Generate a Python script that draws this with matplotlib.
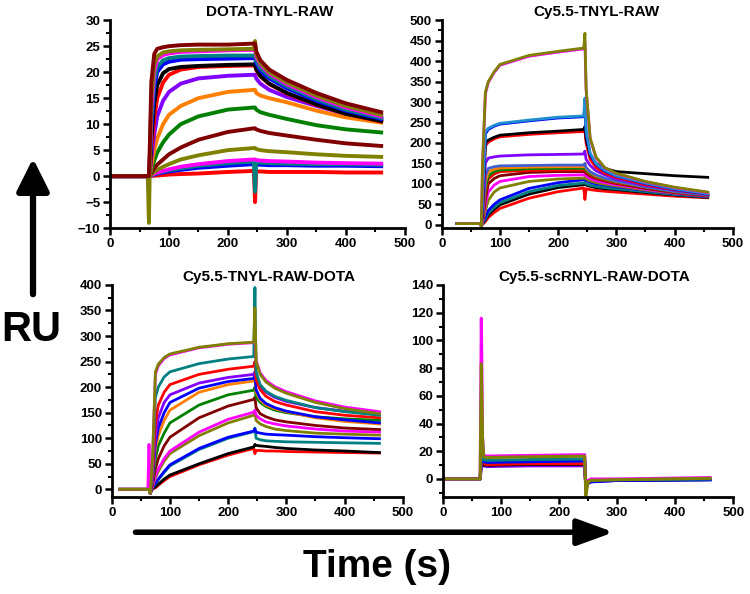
import matplotlib
matplotlib.use("Agg")
import matplotlib.pyplot as plt
from matplotlib.ticker import MultipleLocator

plt.rcParams['font.family'] = ['Liberation Sans', 'DejaVu Sans']
plt.rcParams['font.weight'] = 'bold'

BLACK = '#000000'
RED = '#ff0000'
BLUE = '#0000ff'
GREEN = '#008000'
PURPLE = '#8000ff'
ORANGE = '#ff8000'
MAROON = '#800000'
MAGENTA = '#ff00ff'
TEAL = '#008080'
OLIVE = '#808000'
SLATE = '#4060d0'
SKY = '#1f8fd0'

# ---- DOTA-TNYL-RAW ----
t_dota = [0, 64, 66, 68, 70, 75, 80, 90, 100, 120, 150, 200, 244, 246, 248, 255, 270, 300, 350, 400, 460]
dota_colors = [RED, BLUE, TEAL, MAGENTA, OLIVE, MAROON, GREEN, ORANGE, PURPLE, RED, BLACK, BLUE, TEAL, MAGENTA, OLIVE, MAROON]
dota_curves = [
    [0, 0, 0, 0, 0, 0.1, 0.1, 0.2, 0.3, 0.4, 0.5, 0.8, 1.0, -5, 0.9, 0.9, 0.8, 0.8, 0.8, 0.7, 0.7],
    [0, 0, 0, 0, 0.1, 0.3, 0.5, 0.7, 0.9, 1.2, 1.6, 2.0, 2.3, 2.3, 2.2, 2.2, 2.1, 2.1, 2.0, 2.0, 1.9],
    [0, 0, 0, 0, 0.1, 0.4, 0.6, 0.9, 1.1, 1.5, 2.0, 2.5, 2.8, -3, 2.7, 2.6, 2.5, 2.4, 2.3, 2.3, 2.2],
    [0, 0, 0, 0, 0.2, 0.5, 0.7, 1.0, 1.3, 1.8, 2.3, 2.9, 3.2, 3.2, 3.1, 3.0, 2.9, 2.8, 2.6, 2.5, 2.4],
    [0, 0, 0, 0.1, 0.3, 0.8, 1.2, 1.8, 2.3, 3.2, 4.0, 5.0, 5.4, 5.4, 5.2, 5.0, 4.8, 4.6, 4.2, 3.9, 3.7],
    [0, 0, 0, 0.2, 0.6, 1.5, 2.2, 3.2, 4.2, 5.5, 7.0, 8.5, 9.2, 9.2, 9.0, 8.7, 8.3, 7.8, 7.0, 6.3, 5.8],
    [0, 0, 0, 0.3, 1.2, 3.0, 4.5, 6.5, 8.0, 10.0, 11.5, 12.8, 13.2, 13.2, 12.8, 12.3, 11.8, 11.0, 9.8, 9.0, 8.4],
    [0, 0, 0, 0.5, 2.0, 5.0, 7.2, 10.0, 11.8, 13.5, 15.0, 16.2, 16.6, 16.6, 16.0, 15.5, 15.0, 14.2, 12.6, 11.3, 10.3],
    [0, 0, 0, 1.0, 3.5, 8.0, 11.5, 14.5, 16.2, 17.8, 18.8, 19.3, 19.5, 19.5, 18.8, 17.8, 16.6, 15.2, 13.5, 12.0, 10.9],
    [0, 0, 0, 1.5, 5.0, 11.0, 15.0, 18.0, 19.5, 20.5, 21.0, 21.2, 21.3, 21.3, 20.4, 19.2, 17.7, 15.9, 13.7, 12.0, 10.5],
    [0, 0, 0, 2.0, 7.0, 14.0, 17.5, 19.8, 20.6, 21.0, 21.2, 21.4, 21.5, 21.5, 20.6, 19.3, 17.8, 16.0, 13.8, 12.0, 10.6],
    [0, 0, 0, 3.0, 9.0, 17.0, 20.0, 21.5, 22.0, 22.4, 22.5, 22.6, 22.7, 22.7, 21.7, 20.3, 18.8, 16.9, 14.5, 12.6, 11.0],
    [0, 0, 0, 4.0, 11.0, 18.5, 21.0, 22.3, 22.7, 23.0, 23.1, 23.2, 23.2, 23.2, 22.2, 20.8, 19.2, 17.3, 14.8, 12.8, 11.2],
    [0, 0, 0, 5.0, 13.0, 20.0, 22.5, 23.3, 23.6, 23.9, 24.0, 24.2, 24.3, 24.3, 23.0, 21.5, 19.7, 17.7, 15.2, 13.2, 11.5],
    [0, 0, -9, 6.0, 15.0, 21.5, 23.0, 23.8, 24.0, 24.2, 24.3, 24.4, 24.5, 26.0, 23.5, 21.8, 20.0, 18.0, 15.5, 13.5, 11.8],
    [0, 0, 0, 8.0, 18.0, 23.5, 24.5, 24.8, 25.0, 25.2, 25.3, 25.3, 25.5, 25.5, 24.0, 22.3, 20.5, 18.5, 16.0, 14.0, 12.3],
]

# ---- Cy5.5-TNYL-RAW ----
t_cy = [26, 66, 68, 70, 75, 80, 90, 100, 150, 200, 244, 246, 248, 255, 265, 280, 300, 350, 400, 457]
cy_colors = [RED, BLACK, TEAL, BLUE, OLIVE, MAGENTA, MAROON, RED, GREEN, ORANGE, SLATE, PURPLE, RED, BLACK, BLUE, SKY, MAGENTA, OLIVE]
cy_curves = [
    [3, 3, 0, 1, 8, 18, 30, 40, 65, 81, 90, 62, 88, 86, 84, 82, 80, 75, 70, 66],
    [3, 3, 0, 2, 12, 24, 38, 49, 75, 91, 98, 100, 97, 94, 91, 88, 86, 79, 73, 67],
    [3, 3, 0, 2, 15, 28, 43, 54, 81, 96, 102, 104, 100, 97, 94, 91, 88, 81, 74, 68],
    [3, 3, 0, 3, 20, 35, 50, 61, 89, 103, 110, 112, 108, 104, 100, 97, 93, 84, 76, 69],
    [3, 3, 0, 4, 35, 60, 80, 90, 106, 112, 114, 116, 112, 107, 103, 99, 95, 85, 77, 70],
    [3, 3, 0, 5, 50, 80, 97, 106, 118, 121, 122, 124, 119, 113, 108, 103, 98, 87, 78, 70],
    [3, 3, 0, 6, 65, 100, 113, 120, 128, 130, 130, 132, 126, 119, 113, 107, 101, 89, 79, 70],
    [3, 3, 0, 8, 80, 112, 124, 130, 133, 134, 134, 136, 130, 122, 115, 109, 103, 91, 80, 71],
    [3, 3, 0, 10, 90, 120, 130, 134, 137, 138, 138, 140, 133, 125, 118, 111, 105, 92, 81, 72],
    [3, 3, 0, 12, 105, 130, 136, 139, 141, 142, 142, 150, 137, 128, 120, 113, 106, 93, 82, 73],
    [3, 3, 0, 15, 120, 138, 142, 144, 145, 146, 146, 150, 140, 130, 122, 114, 107, 93, 82, 72],
    [3, 3, 0, 20, 151, 163, 166, 168, 171, 172, 173, 180, 160, 145, 132, 122, 112, 96, 85, 74],
    [3, 3, 0, 35, 193, 202, 210, 215, 221, 225, 228, 230, 200, 160, 140, 126, 116, 98, 86, 74],
    [3, 3, 0, 40, 200, 207, 214, 219, 225, 229, 233, 240, 210, 170, 150, 138, 130, 125, 120, 116],
    [3, 3, 0, 55, 222, 233, 241, 246, 254, 261, 264, 290, 225, 172, 148, 131, 119, 101, 87, 75],
    [3, 3, 0, 60, 227, 236, 243, 248, 256, 263, 266, 310, 230, 175, 150, 133, 120, 102, 88, 76],
    [3, 3, -5, 140, 320, 348, 372, 390, 412, 422, 430, 445, 330, 210, 164, 139, 125, 105, 91, 79],
    [3, 3, -5, 150, 325, 350, 374, 392, 414, 424, 432, 468, 335, 212, 166, 140, 126, 106, 92, 80],
]

# ---- Cy5.5-TNYL-RAW-DOTA ----
t_cyd = [14, 62, 64, 66, 70, 75, 80, 90, 100, 150, 200, 244, 246, 248, 255, 265, 280, 300, 350, 400, 460]
cyd_colors = [RED, BLACK, TEAL, BLUE, OLIVE, MAGENTA, MAROON, GREEN, ORANGE, BLUE, PURPLE, RED, TEAL, MAGENTA, OLIVE]
cyd_curves = [
    [0, 0, 0, -8, 1, 3, 8, 17, 25, 48, 67, 80, 70, 76, 76, 75, 75, 74, 73, 72, 71],
    [0, 0, 0, -8, 1, 5, 10, 20, 28, 50, 70, 83, 88, 86, 85, 84, 82, 80, 77, 75, 72],
    [0, 0, 0, -8, 3, 11, 19, 33, 46, 78, 100, 113, 120, 100, 97, 95, 94, 93, 92, 91, 90],
    [0, 0, 0, -8, 3, 12, 20, 35, 48, 80, 102, 114, 118, 112, 110, 108, 107, 106, 103, 101, 99],
    [0, 0, 0, -8, 5, 22, 35, 55, 70, 105, 130, 145, 150, 135, 128, 123, 118, 115, 110, 108, 106],
    [0, 0, 0, -8, 6, 25, 40, 60, 75, 112, 137, 151, 155, 145, 138, 132, 128, 124, 118, 114, 112],
    [0, 0, 0, -8, 10, 40, 60, 85, 102, 140, 163, 176, 180, 160, 148, 142, 136, 132, 125, 120, 117],
    [0, 0, 0, -8, 14, 60, 85, 110, 130, 165, 185, 194, 200, 180, 170, 162, 155, 150, 142, 138, 135],
    [0, 0, 0, -8, 18, 80, 105, 135, 155, 190, 205, 212, 220, 190, 175, 165, 158, 152, 140, 133, 128],
    [0, 0, 0, -8, 20, 90, 120, 150, 170, 198, 211, 217, 225, 195, 178, 168, 160, 153, 142, 136, 130],
    [0, 0, 0, -8, 25, 100, 140, 170, 185, 208, 219, 225, 230, 215, 200, 190, 180, 172, 160, 153, 148],
    [0, 0, 0, -8, 30, 130, 165, 190, 205, 225, 235, 241, 250, 215, 195, 182, 172, 165, 152, 145, 140],
    [0, 0, 0, -8, 40, 180, 200, 220, 230, 246, 255, 260, 395, 230, 205, 192, 182, 174, 160, 152, 145],
    [0, 0, 88, -8, 55, 225, 242, 256, 263, 277, 284, 287, 300, 252, 228, 213, 201, 191, 173, 161, 152],
    [0, 0, 0, -8, 60, 230, 245, 258, 265, 278, 285, 288, 355, 250, 225, 210, 198, 188, 170, 158, 148],
]

# ---- Cy5.5-scRNYL-RAW-DOTA ----
t_sc = [0, 64, 66, 68, 70, 75, 150, 244, 246, 250, 255, 300, 460]
sc_colors = [PURPLE, BLACK, RED, BLUE, TEAL, MAGENTA, OLIVE]
sc_curves = [
    [0, 0, 12, 10, 9.5, 9.0, 9.5, 9.5, -5, -3, -2, -1, -0.5],
    [0, 0, 13, 11, 10, 10, 10.5, 10.5, -5, -2, -1.5, -1, -0.5],
    [0, 0, 14, 12, 11, 10.5, 11, 11, -5, -2, -1, -0.5, 0],
    [0, 0, 15, 14, 12.5, 12, 12.5, 13, -6, -3, -2, -1, -0.5],
    [0, 0, 20, 16, 14, 13.5, 14, 14.5, -6, -2, -1, -0.5, 0],
    [0, 0, 116, 30, 17, 16.5, 17, 17.5, -8, -1, 0, 0, 1],
    [0, 0, 83, 30, 16, 15.5, 16, 16.5, -12, -2, -1, -0.5, 0.5],
]

fig = plt.figure(figsize=(7.5, 5.94), dpi=100)


def style(ax, title, ylim, ymaj, ymin, xlim=(0, 500), tx=0.53):
    ax.set_xlim(*xlim)
    ax.set_ylim(*ylim)
    ax.xaxis.set_major_locator(MultipleLocator(100))
    ax.xaxis.set_minor_locator(MultipleLocator(50))
    ax.yaxis.set_major_locator(MultipleLocator(ymaj))
    ax.yaxis.set_minor_locator(MultipleLocator(ymin))
    for s in ['top', 'right']:
        ax.spines[s].set_visible(False)
    for s in ['left', 'bottom']:
        ax.spines[s].set_linewidth(2)
    ax.tick_params(which='major', length=5, width=1.8, labelsize=9.5, pad=2)
    ax.tick_params(which='minor', length=3, width=1.5)
    for lab in ax.get_xticklabels() + ax.get_yticklabels():
        lab.set_fontweight('bold')
    ax.set_title(title, fontsize=11, fontweight='bold', x=tx, pad=3)


ax1 = fig.add_axes([0.1467, 0.616, 0.393, 0.350])
for c, y in zip(dota_colors, dota_curves):
    ax1.plot(t_dota, y, color=c, lw=2.8)
style(ax1, 'DOTA-TNYL-RAW', (-10, 30), 5, 2.5, tx=0.54)

ax2 = fig.add_axes([0.589, 0.616, 0.388, 0.350])
for c, y in zip(cy_colors, cy_curves):
    ax2.plot(t_cy, y, color=c, lw=2)
style(ax2, 'Cy5.5-TNYL-RAW', (-8, 500), 50, 25)

ax3 = fig.add_axes([0.149, 0.1633, 0.388, 0.357])
for c, y in zip(cyd_colors, cyd_curves):
    ax3.plot(t_cyd, y, color=c, lw=2)
style(ax3, 'Cy5.5-TNYL-RAW-DOTA', (-15, 400), 50, 25, tx=0.54)

ax4 = fig.add_axes([0.5907, 0.1633, 0.387, 0.357])
for c, y in zip(sc_colors, sc_curves):
    ax4.plot(t_sc, y, color=c, lw=2.2)
style(ax4, 'Cy5.5-scRNYL-RAW-DOTA', (-13, 140), 20, 10, tx=0.52)

# RU arrow and label
fig.add_artist(matplotlib.patches.FancyArrowPatch(
    (0.044, 0.50), (0.044, 0.738), transform=fig.transFigure,
    arrowstyle='-|>,head_length=0.9,head_width=0.45', mutation_scale=22,
    lw=4.5, color='black'))
fig.text(0.042, 0.444, 'RU', fontsize=30, fontweight='bold', ha='center', va='center')

# Time arrow and label
fig.add_artist(matplotlib.patches.FancyArrowPatch(
    (0.177, 0.104), (0.822, 0.104), transform=fig.transFigure,
    arrowstyle='-|>,head_length=1.1,head_width=0.4', mutation_scale=20,
    lw=4, color='black'))
fig.text(0.503, 0.045, 'Time (s)', fontsize=28, fontweight='bold', ha='center', va='center')

fig.savefig('out.png', dpi=100)
